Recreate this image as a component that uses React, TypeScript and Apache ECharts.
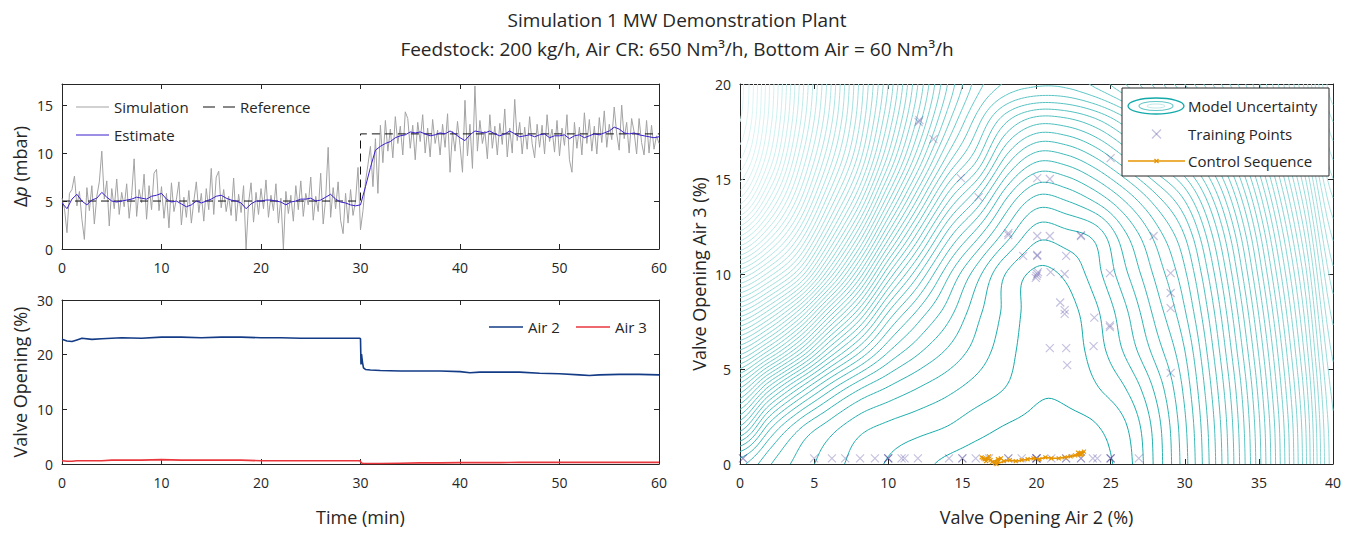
import React, { useEffect, useRef } from 'react';
import * as echarts from 'echarts';

// ---------------- DATA ----------------
const SIM_DT = 0.25; // minutes between simulation samples
const SIMULATION = [
  5.3, 4.2, 1.7, 5.8, 6.2, 7.6, 4.5, 6.0, 3.1, 1.0,
  6.4, 4.0, 6.6, 2.6, 5.5, 7.0, 10.2, 5.2, 7.1, 2.4,
  6.3, 4.2, 7.3, 3.6, 5.9, 4.4, 6.8, 3.2, 5.6, 9.4,
  3.4, 6.2, 4.8, 7.8, 3.1, 6.6, 4.1, 7.9, 8.3, 4.0,
  6.5, 3.2, 5.8, 2.2, 6.9, 3.9, 5.2, 7.0, 2.5, 5.4,
  3.3, 6.1, 2.7, 5.0, 7.0, 3.8, 5.8, 2.9, 6.3, 4.1,
  8.4, 3.6, 7.5, 8.1, 4.3, 6.2, 3.9, 5.5, 3.5, 7.4,
  2.9, 5.7, 3.8, 6.6, 0.0, 4.8, 6.9, 2.8, 5.9, 3.6,
  6.3, 4.2, 7.2, 3.3, 5.6, 4.0, 6.8, 2.7, 5.3, 0.0,
  6.0, 3.7, 5.6, 2.9, 6.6, 4.1, 7.1, 3.4, 5.8, 4.6,
  7.5, 3.0, 5.5, 3.9, 7.9, 2.6, 5.3, 10.6, 3.3, 6.4,
  4.2, 7.0, 3.0, 1.6, 5.8, 2.7, 6.2, 3.5, 5.0, 8.5,
  2.0,
  4.0, 7.0, 8.8, 10.7, 6.5, 11.5, 5.8, 12.9, 9.0, 13.4,
  10.2, 12.5, 9.5, 13.8, 11.0, 12.8, 9.8, 14.3, 13.6, 10.5,
  12.9, 9.3, 13.2, 11.2, 14.0, 10.0, 12.6, 9.6, 13.5, 11.0,
  12.4, 9.8, 13.0, 10.6, 14.1, 8.0, 12.3, 10.2, 13.3, 10.8,
  8.0, 15.5, 9.7, 13.0, 8.4, 17.0, 10.2, 13.4, 11.0, 12.3,
  9.4, 14.0, 10.5, 12.8, 9.8, 13.1, 10.9, 14.6, 9.6, 12.6,
  10.0, 15.6, 11.3, 13.2, 9.9, 12.7, 10.4, 13.8, 11.0, 9.5,
  13.0, 10.6, 12.9, 9.9, 14.0, 11.2, 12.5, 10.1, 13.4, 9.7,
  12.6, 10.8, 14.0, 9.3, 8.0, 13.2, 10.5, 12.7, 9.8, 14.2,
  11.0, 13.5, 10.2, 12.8, 9.9, 13.7, 11.1, 14.4, 10.6, 13.0,
  11.4, 14.8, 12.0, 10.3, 15.0, 11.5, 13.2, 10.0, 13.6, 12.2,
  9.9, 13.6, 11.1, 9.8, 13.4, 10.0, 12.9, 10.4, 11.8, 11.0,
];

const EST_DT = 0.5;
const ESTIMATE = [
  4.8, 4.2, 5.2, 5.7, 5.0, 4.6, 5.1, 5.3, 5.9, 5.4,
  5.0, 4.9, 5.0, 5.1, 5.2, 5.4, 5.3, 5.2, 5.5, 5.6,
  5.8, 5.2, 4.9, 5.0, 4.7, 4.4, 4.6, 5.0, 4.8, 5.0,
  5.2, 5.5, 5.6, 5.3, 5.1, 5.0, 4.8, 4.2, 4.7, 5.0,
  5.0, 5.1, 5.1, 5.0, 4.9, 4.6, 4.9, 5.0, 5.2, 5.2,
  5.3, 5.0, 5.1, 5.4, 5.7, 5.2, 4.9, 4.8, 4.6, 4.5,
  4.6, 6.5, 8.5, 10.3, 10.7, 11.0, 11.2, 11.6, 11.8, 11.9,
  12.2, 12.1, 12.2, 12.0, 11.8, 11.9, 12.1, 12.0, 12.3, 12.0,
  11.6, 11.3, 11.9, 12.3, 12.2, 12.1, 12.3, 12.0, 11.8, 12.0,
  12.3, 12.0, 11.7, 11.8, 11.9, 11.7, 11.9, 12.0, 11.6, 11.8,
  11.8, 11.9, 11.5, 11.8, 11.9, 11.6, 11.8, 12.0, 11.9, 12.1,
  12.3, 12.7, 12.5, 12.1, 12.0, 12.1, 11.9, 11.8, 11.7, 11.6,
  11.7,
];

const REF_T = [0, 30, 30, 60];
const REF_V = [5, 5, 12, 12];

const AIR_T = [0, 0.5, 1, 1.5, 2, 3, 4, 5, 6, 8, 10, 12, 14, 16, 18, 20, 22, 24, 26, 28, 29.9, 30, 30.05, 30.1, 30.2, 30.3, 30.5, 31, 32, 34, 36, 38, 40, 41, 42, 44, 46, 48, 50, 52, 53, 54, 56, 58, 60];
const AIR2 = [22.8, 22.5, 22.4, 22.7, 23.0, 22.8, 22.9, 23.0, 23.1, 23.0, 23.2, 23.2, 23.1, 23.2, 23.2, 23.1, 23.1, 23.0, 23.0, 23.0, 23.0, 22.9, 18.2, 20.1, 18.6, 17.6, 17.3, 17.2, 17.1, 17.0, 17.0, 17.0, 16.9, 16.7, 16.8, 16.8, 16.8, 16.6, 16.5, 16.3, 16.2, 16.3, 16.4, 16.4, 16.3];
const AIR3 = [0.6, 0.5, 0.5, 0.6, 0.6, 0.6, 0.6, 0.7, 0.7, 0.7, 0.8, 0.7, 0.7, 0.7, 0.7, 0.6, 0.6, 0.6, 0.6, 0.6, 0.6, 0.5, 0.3, 0.2, 0.15, 0.1, 0.1, 0.1, 0.1, 0.15, 0.2, 0.2, 0.25, 0.25, 0.25, 0.25, 0.3, 0.3, 0.3, 0.3, 0.3, 0.3, 0.3, 0.3, 0.3];

const TRAIN_X = [
  0.2, 0.2, 5.0, 6.2, 7.1, 8.1, 9.1, 10.0, 10.0, 10.0, 10.9, 11.1, 12.0, 14.1, 15.0, 15.0, 15.9, 16.8, 18.1, 18.1,
  19.0, 20.0, 20.0, 20.0, 20.0, 21.0, 22.0, 22.0, 23.0, 23.0, 23.8, 24.1, 25.0, 25.0, 25.0, 26.9,
  12.05, 12.1, 13.05, 14.9, 16.1, 20.05, 20.9, 25.0, 18.1, 18.1, 20.05, 20.9, 23.0, 23.0, 27.9,
  19.1, 20.05, 20.05, 22.0, 20.05, 20.0, 20.1, 19.95, 20.95, 21.9, 24.95, 29.05, 29.05,
  21.6, 21.9, 21.9, 23.9, 24.95, 24.95, 29.05, 20.9, 22.0, 23.85, 22.07, 29.05,
];
const TRAIN_Y = [
  0.3, 0.3, 0.3, 0.3, 0.3, 0.3, 0.3, 0.3, 0.3, 0.3, 0.3, 0.3, 0.3, 0.3, 0.3, 0.3, 0.3, 0.3, 0.3, 0.3,
  0.3, 0.3, 0.3, 0.3, 0.3, 0.3, 0.3, 0.3, 0.3, 0.3, 0.3, 0.3, 0.3, 0.3, 0.3, 0.3,
  18.0, 18.1, 17.1, 15.05, 14.05, 15.05, 15.0, 16.1, 12.15, 12.05, 12.0, 12.0, 12.0, 12.05, 12.0,
  10.95, 10.95, 11.0, 10.95, 10.0, 9.9, 10.1, 9.8, 10.1, 10.0, 10.05, 10.05, 9.0,
  8.5, 8.1, 7.9, 7.7, 7.2, 7.3, 8.2, 6.1, 6.1, 6.2, 5.2, 4.8,
];

const CTRL_X = [16.3, 16.5, 16.8, 16.6, 16.4, 16.9, 17.2, 17.4, 17.0, 17.6, 17.3, 17.8, 18.2, 18.6, 19.0, 19.4, 19.8, 20.2, 20.6, 21.0, 21.5, 21.9, 22.3, 22.6, 22.9, 23.1, 23.2, 22.8, 23.0];
const CTRL_Y = [0.35, 0.25, 0.4, 0.15, 0.3, 0.2, 0.05, 0.25, 0.1, 0.3, 0.0, 0.15, 0.2, 0.15, 0.2, 0.25, 0.3, 0.25, 0.35, 0.3, 0.3, 0.35, 0.4, 0.45, 0.5, 0.55, 0.65, 0.6, 0.5];

// model uncertainty (in contour-level units) read on a 2 x 2 grid
const UNC_X = [0, 2, 4, 6, 8, 10, 12, 14, 16, 18, 20, 22, 24, 26, 28, 30, 32, 34, 36, 38, 40];
const UNC_Y = [0, 2, 4, 6, 8, 10, 12, 14, 16, 18, 20];
const UNCERTAINTY = [
  [8.3, 6.1, 4.6, 3.5, 2.6, 1.9, 1.3, 0.8, 0.5, 0.35, 0.3, 0.4, 0.7, 1.5, 4.2, 7.6, 11.8, 16.8, 22.6, 29.2, 36.6],
  [15, 9.5, 6.3, 4.6, 3.4, 2.8, 2.4, 2.0, 1.4, 0.95, 0.75, 0.75, 0.95, 1.9, 4.4, 7.8, 12.0, 17.0, 22.8, 29.4, 36.8],
  [22, 16.5, 12, 8.5, 6.2, 4.9, 4.0, 3.3, 2.6, 1.95, 1.15, 1.2, 1.9, 3.0, 5.2, 8.3, 12.5, 17.5, 23.4, 30.0, 37.4],
  [30, 26, 21, 15.5, 11.5, 8.2, 6.3, 4.9, 3.6, 2.4, 1.3, 1.4, 2.5, 4.2, 6.4, 9.0, 13.2, 18.3, 24.2, 30.9, 38.3],
  [38, 34.5, 29.5, 23, 17.5, 12, 8.8, 6.5, 4.3, 2.7, 1.45, 1.6, 2.8, 4.8, 7.3, 9.9, 14.0, 19.2, 25.2, 31.9, 39.4],
  [46, 42.5, 38, 31, 24, 17, 12.2, 8.3, 5.4, 2.9, 1.8, 2.2, 3.6, 5.8, 8.2, 10.8, 15.0, 20.3, 26.4, 33.1, 40.7],
  [54, 49.5, 44, 37, 30, 22.5, 16.5, 11.5, 8.3, 5.4, 3.3, 3.6, 4.3, 6.8, 9.3, 12.0, 16.3, 21.6, 27.8, 34.6, 42.2],
  [61, 55, 48.5, 41.5, 35, 27.5, 21, 15.5, 12, 8, 5.8, 6.2, 7.4, 9.3, 11.6, 14.2, 18.3, 23.5, 29.6, 36.4, 44.0],
  [65, 58.8, 51.5, 44.8, 38.5, 31.5, 25, 19.5, 16, 11.5, 9.2, 9.5, 10.8, 12.8, 15.2, 17.6, 21.2, 26.0, 31.8, 38.5, 46.0],
  [67, 60.5, 53.3, 46.7, 40.3, 33.8, 27.6, 22.3, 18.4, 15.0, 13.3, 13.5, 14.6, 16.5, 19, 21.6, 25.0, 29.2, 34.4, 40.8, 48.0],
  [67.5, 61, 54, 47.5, 41, 35, 29, 24, 20.5, 18.8, 18.2, 18.3, 19.3, 21, 23.3, 26.0, 29.2, 32.8, 37.2, 43.0, 50.0],
];
const CONTOUR_FIRST = 1;
const CONTOUR_LAST = 67;

// ---------------- CONTOURING ----------------
function cr(p0: number, p1: number, p2: number, p3: number, t: number) {
  return 0.5 * (2 * p1 + (-p0 + p2) * t + (2 * p0 - 5 * p1 + 4 * p2 - p3) * t * t + (-p0 + 3 * p1 - 3 * p2 + p3) * t * t * t);
}

function sampleField(x: number, y: number) {
  const nxG = UNC_X.length, nyG = UNC_Y.length;
  const sx = UNC_X[1] - UNC_X[0], sy = UNC_Y[1] - UNC_Y[0];
  const gx = (x - UNC_X[0]) / sx, gy = (y - UNC_Y[0]) / sy;
  const i = Math.max(0, Math.min(Math.floor(gx), nxG - 2));
  const j = Math.max(0, Math.min(Math.floor(gy), nyG - 2));
  const tx = gx - i, ty = gy - j;
  const cx = (k: number) => Math.max(0, Math.min(nxG - 1, k));
  const cy = (k: number) => Math.max(0, Math.min(nyG - 1, k));
  const col: number[] = [];
  for (let m = -1; m <= 2; m++) {
    const r = UNCERTAINTY[cy(j + m)];
    col.push(cr(r[cx(i - 1)], r[cx(i)], r[cx(i + 1)], r[cx(i + 2)], tx));
  }
  return cr(col[0], col[1], col[2], col[3], ty);
}

function contourLevel(F: Float64Array, nx: number, ny: number, xs: number[], ys: number[], lev: number) {
  const H = nx * ny;
  const pt = new Map<number, number[]>();
  const adj = new Map<number, number[]>();
  const val = (i: number, j: number) => F[j * nx + i];
  const hEdge = (i: number, j: number) => {
    const k = j * nx + i;
    if (!pt.has(k)) {
      const a = val(i, j), b = val(i + 1, j);
      const t = (lev - a) / (b - a);
      pt.set(k, [xs[i] + t * (xs[i + 1] - xs[i]), ys[j]]);
    }
    return k;
  };
  const vEdge = (i: number, j: number) => {
    const k = H + j * nx + i;
    if (!pt.has(k)) {
      const a = val(i, j), b = val(i, j + 1);
      const t = (lev - a) / (b - a);
      pt.set(k, [xs[i], ys[j] + t * (ys[j + 1] - ys[j])]);
    }
    return k;
  };
  const add = (a: number, b: number) => {
    if (!adj.has(a)) adj.set(a, []);
    if (!adj.has(b)) adj.set(b, []);
    adj.get(a)!.push(b);
    adj.get(b)!.push(a);
  };
  for (let j = 0; j < ny - 1; j++) {
    for (let i = 0; i < nx - 1; i++) {
      const v0 = val(i, j), v1 = val(i + 1, j), v2 = val(i + 1, j + 1), v3 = val(i, j + 1);
      let c = 0;
      if (v0 > lev) c |= 1;
      if (v1 > lev) c |= 2;
      if (v2 > lev) c |= 4;
      if (v3 > lev) c |= 8;
      if (c === 0 || c === 15) continue;
      const B = () => hEdge(i, j), T = () => hEdge(i, j + 1), L = () => vEdge(i, j), R = () => vEdge(i + 1, j);
      switch (c) {
        case 1: case 14: add(L(), B()); break;
        case 2: case 13: add(B(), R()); break;
        case 3: case 12: add(L(), R()); break;
        case 4: case 11: add(R(), T()); break;
        case 6: case 9: add(B(), T()); break;
        case 7: case 8: add(L(), T()); break;
        case 5: {
          const m = (v0 + v1 + v2 + v3) / 4;
          if (m > lev) { add(L(), T()); add(B(), R()); } else { add(L(), B()); add(R(), T()); }
          break;
        }
        case 10: {
          const m = (v0 + v1 + v2 + v3) / 4;
          if (m > lev) { add(L(), B()); add(R(), T()); } else { add(L(), T()); add(B(), R()); }
          break;
        }
      }
    }
  }
  const used = new Set<number>();
  const out: number[][][] = [];
  const walk = (start: number) => {
    const path = [pt.get(start)!];
    used.add(start);
    let cur = start;
    for (;;) {
      const nb = adj.get(cur)!;
      let next = -1;
      for (const n of nb) if (!used.has(n)) { next = n; break; }
      if (next < 0) {
        if (nb.indexOf(start) >= 0 && path.length > 2) path.push(pt.get(start)!);
        break;
      }
      used.add(next);
      path.push(pt.get(next)!);
      cur = next;
    }
    return path;
  };
  adj.forEach((nb, k) => { if (nb.length === 1 && !used.has(k)) out.push(walk(k)); });
  adj.forEach((_nb, k) => { if (!used.has(k)) out.push(walk(k)); });
  return out;
}

function levelColor(k: number) {
  const t = Math.pow((k - CONTOUR_FIRST) / (CONTOUR_LAST - CONTOUR_FIRST), 0.7);
  const c0 = [12, 166, 166], c1 = [224, 246, 246];
  const c = c0.map((v, i) => Math.round(v + (c1[i] - v) * t));
  return `rgb(${c[0]},${c[1]},${c[2]})`;
}

function buildContours() {
  const h = 0.2;
  const x0 = UNC_X[0], x1 = UNC_X[UNC_X.length - 1];
  const y0 = UNC_Y[0], y1 = UNC_Y[UNC_Y.length - 1];
  const nx = Math.round((x1 - x0) / h) + 1, ny = Math.round((y1 - y0) / h) + 1;
  const xs: number[] = [], ys: number[] = [];
  for (let i = 0; i < nx; i++) xs.push(x0 + i * h);
  for (let j = 0; j < ny; j++) ys.push(y0 + j * h);
  const F = new Float64Array(nx * ny);
  for (let j = 0; j < ny; j++) for (let i = 0; i < nx; i++) F[j * nx + i] = sampleField(xs[i], ys[j]);
  const data: any[] = [];
  for (let k = CONTOUR_LAST; k >= CONTOUR_FIRST; k--) {
    const color = levelColor(k);
    for (const line of contourLevel(F, nx, ny, xs, ys, k)) {
      if (line.length < 2) continue;
      data.push({ coords: line, lineStyle: { color } });
    }
  }
  return data;
}

// ---------------- CHART ----------------
const FONT = '"Open Sans", Lato, sans-serif';
const AX = '#262626';
const C_SIM = '#a3a3a3', C_REF = '#111111', C_EST = '#3a1fcc', C_AIR2 = '#133b86', C_AIR3 = '#e8363c', C_CTRL = '#e69400';

function xAx(grid: number, min: number, max: number, interval: number, top: boolean, extra: any = {}) {
  return {
    gridIndex: grid, type: 'value', min, max, interval, position: top ? 'top' : 'bottom',
    axisLine: { show: true, onZero: false, lineStyle: { color: AX, width: 1 } },
    axisTick: { show: true, inside: true, length: 5, lineStyle: { color: AX } },
    axisLabel: { show: !top, color: AX, fontSize: 14, margin: 11, fontFamily: FONT },
    splitLine: { show: false },
    nameMoveOverlap: false,
    ...extra,
  };
}
function yAx(grid: number, min: number, max: number, interval: number, right: boolean, extra: any = {}) {
  return {
    gridIndex: grid, type: 'value', min, max, interval, position: right ? 'right' : 'left',
    axisLine: { show: true, onZero: false, lineStyle: { color: AX, width: 1 } },
    axisTick: { show: true, inside: true, length: 5, lineStyle: { color: AX } },
    axisLabel: { show: !right, color: AX, fontSize: 14, margin: 9, fontFamily: FONT, showMaxLabel: max % interval === 0 },
    splitLine: { show: false },
    nameMoveOverlap: false,
    ...extra,
  };
}

function legendText(x: number, y: number, text: string) {
  return { type: 'text', z: 101, style: { x, y, text, fontSize: 15, fontFamily: FONT, fill: AX, verticalAlign: 'middle' } };
}
function legendLine(x1: number, x2: number, y: number, color: string, width: number, dash?: number[]) {
  return { type: 'line', z: 101, shape: { x1, y1: y, x2, y2: y }, style: { stroke: color, lineWidth: width, lineDash: dash } };
}

function buildOption() {
  const nameStyle = { fontSize: 18, color: AX, fontFamily: FONT };
  const cross = 'path://M0,0L10,10M10,0L0,10';
  return {
    animation: false,
    backgroundColor: '#ffffff',
    title: [
      { text: 'Simulation 1 MW Demonstration Plant', left: 'center', top: 5, textStyle: { fontSize: 19, fontWeight: 'normal', color: AX, fontFamily: FONT } },
      { text: 'Feedstock: 200 kg/h, Air CR: 650 Nm³/h, Bottom Air = 60 Nm³/h', left: 'center', top: 34, textStyle: { fontSize: 19, fontWeight: 'normal', color: AX, fontFamily: FONT } },
    ],
    grid: [
      { left: 62, top: 84, width: 597, height: 165, outerBoundsMode: 'none' },
      { left: 62, top: 300, width: 597, height: 164, outerBoundsMode: 'none' },
      { left: 740, top: 84, width: 593, height: 380, outerBoundsMode: 'none' },
    ],
    xAxis: [
      xAx(0, 0, 60, 10, false),
      xAx(0, 0, 60, 10, true),
      xAx(1, 0, 60, 10, false, { name: 'Time (min)', nameLocation: 'middle', nameGap: 44, nameTextStyle: nameStyle }),
      xAx(1, 0, 60, 10, true),
      xAx(2, 0, 40, 5, false, { name: 'Valve Opening Air 2 (%)', nameLocation: 'middle', nameGap: 44, nameTextStyle: nameStyle }),
      xAx(2, 0, 40, 5, true),
    ],
    yAxis: [
      yAx(0, 0, 17.2, 5, false, {
        name: '{n|Δ}{i|p}{n| (mbar)}', nameLocation: 'middle', nameGap: 33,
        nameTextStyle: { ...nameStyle, rich: { n: { fontSize: 18, color: AX, fontFamily: FONT }, i: { fontSize: 18, color: AX, fontFamily: FONT, fontStyle: 'italic' } } },
      }),
      yAx(0, 0, 17.2, 5, true),
      yAx(1, 0, 30, 10, false, { name: 'Valve Opening (%)', nameLocation: 'middle', nameGap: 33, nameTextStyle: nameStyle }),
      yAx(1, 0, 30, 10, true),
      yAx(2, 0, 20, 5, false, { name: 'Valve Opening Air 3 (%)', nameLocation: 'middle', nameGap: 32, nameTextStyle: nameStyle }),
      yAx(2, 0, 20, 5, true),
    ],
    series: [
      {
        type: 'line', name: 'Simulation', xAxisIndex: 0, yAxisIndex: 0, symbol: 'none', z: 2,
        data: SIMULATION.map((v, i) => [i * SIM_DT, v]),
        lineStyle: { color: C_SIM, width: 1 }, itemStyle: { color: C_SIM },
      },
      {
        type: 'line', name: 'Reference', xAxisIndex: 0, yAxisIndex: 0, symbol: 'none', z: 3,
        data: REF_T.map((t, i) => [t, REF_V[i]]),
        lineStyle: { color: C_REF, width: 1, type: [8, 5] }, itemStyle: { color: C_REF },
      },
      {
        type: 'line', name: 'Estimate', xAxisIndex: 0, yAxisIndex: 0, symbol: 'none', z: 4,
        data: ESTIMATE.map((v, i) => [i * EST_DT, v]),
        lineStyle: { color: C_EST, width: 1 }, itemStyle: { color: C_EST },
      },
      {
        type: 'line', name: 'Air 2', xAxisIndex: 2, yAxisIndex: 2, symbol: 'none', z: 3,
        data: AIR_T.map((t, i) => [t, AIR2[i]]),
        lineStyle: { color: C_AIR2, width: 1.6 }, itemStyle: { color: C_AIR2 },
      },
      {
        type: 'line', name: 'Air 3', xAxisIndex: 2, yAxisIndex: 2, symbol: 'none', z: 3,
        data: AIR_T.map((t, i) => [t, AIR3[i]]),
        lineStyle: { color: C_AIR3, width: 1.6 }, itemStyle: { color: C_AIR3 },
      },
      {
        type: 'lines', name: 'Model Uncertainty', coordinateSystem: 'cartesian2d', xAxisIndex: 4, yAxisIndex: 4,
        polyline: true, silent: true, z: 1, progressive: 0, large: false,
        lineStyle: { width: 1, opacity: 1, curveness: 0 },
        data: buildContours(),
      },
      {
        type: 'scatter', name: 'Training Points', xAxisIndex: 4, yAxisIndex: 4, z: 3, silent: true,
        symbol: cross, symbolSize: 8,
        data: TRAIN_X.map((x, i) => [x, TRAIN_Y[i]]),
        itemStyle: { color: 'rgba(0,0,0,0)', borderColor: 'rgba(60,50,150,0.3)', borderWidth: 1.2, opacity: 1 },
      },
      {
        type: 'line', name: 'Control Sequence', xAxisIndex: 4, yAxisIndex: 4, z: 4, silent: true,
        symbol: cross, symbolSize: 4, showSymbol: true,
        data: CTRL_X.map((x, i) => [x, CTRL_Y[i]]),
        lineStyle: { color: C_CTRL, width: 1.6 },
        itemStyle: { color: 'rgba(0,0,0,0)', borderColor: C_CTRL, borderWidth: 1.2 },
      },
    ],
    graphic: [
      legendLine(76, 109, 107, C_SIM, 1),
      legendText(114, 107, 'Simulation'),
      legendLine(203, 235, 107, C_REF, 1, [12, 8]),
      legendText(240, 107, 'Reference'),
      legendLine(76, 109, 135, C_EST, 1),
      legendText(114, 135, 'Estimate'),
      legendLine(489, 523, 327, C_AIR2, 1.5),
      legendText(528, 327, 'Air 2'),
      legendLine(576, 610, 327, C_AIR3, 1.5),
      legendText(615, 327, 'Air 3'),
      { type: 'rect', z: 100, shape: { x: 1122, y: 88, width: 207, height: 88 }, style: { fill: '#ffffff', stroke: AX, lineWidth: 1 } },
      { type: 'ellipse', z: 101, shape: { cx: 1156, cy: 106, rx: 28, ry: 8 }, style: { fill: 'none', stroke: '#14a9a9', lineWidth: 1.3 } },
      { type: 'ellipse', z: 101, shape: { cx: 1156, cy: 106, rx: 17, ry: 4.5 }, style: { fill: 'none', stroke: '#62c6c6', lineWidth: 1.1 } },
      { type: 'ellipse', z: 101, shape: { cx: 1156, cy: 106, rx: 9, ry: 2 }, style: { fill: 'none', stroke: '#bfe7e7', lineWidth: 1 } },
      legendText(1188, 106, 'Model Uncertainty'),
      { type: 'line', z: 101, shape: { x1: 1152, y1: 129.5, x2: 1161, y2: 138.5 }, style: { stroke: 'rgba(60,50,150,0.3)', lineWidth: 1.2 } },
      { type: 'line', z: 101, shape: { x1: 1161, y1: 129.5, x2: 1152, y2: 138.5 }, style: { stroke: 'rgba(60,50,150,0.3)', lineWidth: 1.2 } },
      legendText(1188, 134, 'Training Points'),
      legendLine(1128, 1185, 161, C_CTRL, 1.4),
      { type: 'line', z: 101, shape: { x1: 1154.5, y1: 159, x2: 1158.5, y2: 163 }, style: { stroke: C_CTRL, lineWidth: 1.2 } },
      { type: 'line', z: 101, shape: { x1: 1158.5, y1: 159, x2: 1154.5, y2: 163 }, style: { stroke: C_CTRL, lineWidth: 1.2 } },
      legendText(1188, 161, 'Control Sequence'),
    ],
  };
}

export default function App() {
  const ref = useRef<HTMLDivElement>(null);
  useEffect(() => {
    document.body.style.margin = '0';
    const chart = echarts.init(ref.current!, null, { renderer: 'svg' });
    chart.setOption(buildOption() as any);
    return () => chart.dispose();
  }, []);
  return <div ref={ref} style={{ width: 1354, height: 534 }} />;
}
